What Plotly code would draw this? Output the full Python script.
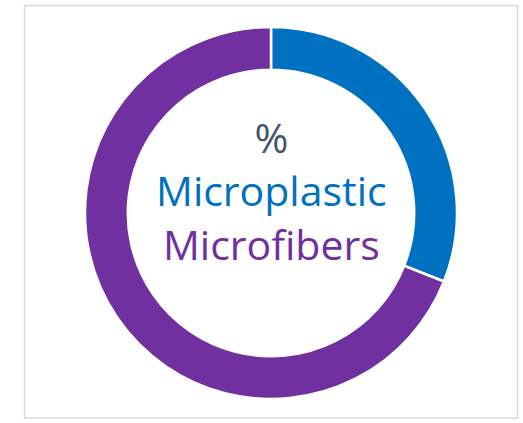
import plotly.graph_objects as go

labels = ["Microplastic", "Microfibers"]
values = [31, 69]
colors = ["#0070C0", "#7030A0"]
title_lines = ["%", "Microplastic", "Microfibers"]
title_colors = ["#44546A", "#0070C0", "#7030A0"]

W, H = 523, 423
cx, cy, r = 271, 213, 186

fig = go.Figure(go.Pie(
    labels=labels, values=values, sort=False, direction="clockwise", rotation=0,
    hole=0.77, textinfo="none", hoverinfo="label+percent",
    marker=dict(colors=colors, line=dict(color="white", width=2.5)),
    domain=dict(x=[(cx - r) / W, (cx + r) / W], y=[(H - cy - r) / H, (H - cy + r) / H]),
    showlegend=False,
))

center_text = "<br>".join(
    f"<span style='color:{c}'>{t}</span>" for t, c in zip(title_lines, title_colors)
)
fig.add_annotation(x=cx / W, y=1 - 190 / H, xref="paper", yref="paper", text=center_text,
                   showarrow=False, align="center",
                   font=dict(family="Open Sans", size=41, color="#44546A"))

fig.add_shape(type="rect", xref="paper", yref="paper",
              x0=24.5 / W, x1=517.5 / W, y0=1 - 418 / H, y1=1 - 5.5 / H,
              line=dict(color="#D9D9D9", width=1.5))

fig.update_layout(width=W, height=H, margin=dict(l=0, r=0, t=0, b=0),
                  paper_bgcolor="white", plot_bgcolor="white")
fig.write_html("out.html", config={"displayModeBar": False},
               post_script="document.body.style.margin='0';document.body.style.overflow='hidden';")
